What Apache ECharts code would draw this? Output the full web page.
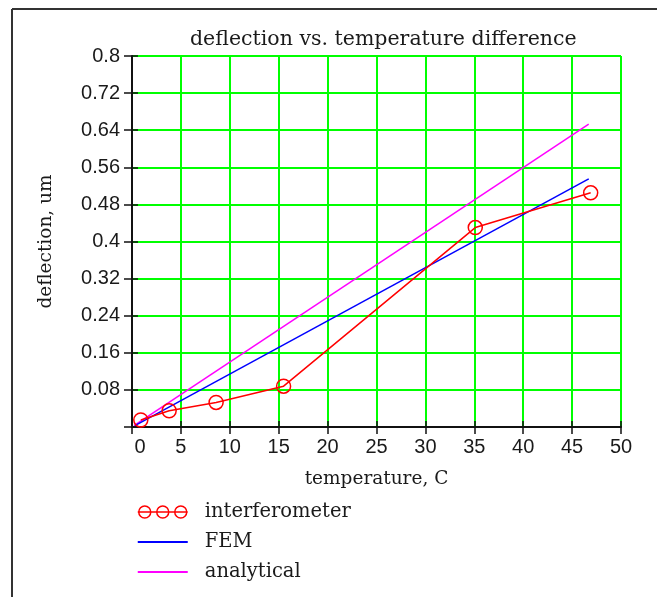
<!DOCTYPE html>
<html>
<head>
<meta charset="utf-8">
<script src="https://cdn.jsdelivr.net/npm/echarts@6/dist/echarts.min.js"></script>
<style>
  html, body { margin: 0; padding: 0; background: #ffffff; }
  #chart { width: 657px; height: 597px; }
</style>
</head>
<body>
<div id="chart"></div>
<script>
// Measured deflection (interferometer) against temperature difference
const temperature = [0.9, 3.8, 8.6, 15.5, 35.1, 46.9];
const interferometer = [0.015, 0.035, 0.053, 0.088, 0.43, 0.505];

// Model predictions (straight lines between end points)
const femTemperature = [0.3, 46.7];
const femDeflection = [0.003, 0.535];
const analyticalTemperature = [0.2, 46.7];
const analyticalDeflection = [0.003, 0.653];

// Axis tick labels
const xTickLabels = ['0', '5', '10', '15', '20', '25', '30', '35', '40', '45', '50'];
const yTickLabels = ['', '0.08', '0.16', '0.24', '0.32', '0.4', '0.48', '0.56', '0.64', '0.72', '0.8'];

const pairs = (xs, ys) => xs.map((x, i) => [x, ys[i]]);

const tickFont = { fontFamily: 'Liberation Sans', fontSize: 20, color: '#1a1a1a' };
const serif = 'DejaVu Serif';

const chart = echarts.init(document.getElementById('chart'), null, { renderer: 'canvas' });

const baseX = { type: 'value', min: 0, max: 50, interval: 5, gridIndex: 0 };
const baseY = { type: 'value', min: 0, max: 0.8, interval: 0.08, gridIndex: 0 };

chart.setOption({
  backgroundColor: '#ffffff',
  animation: false,
  title: {
    text: 'deflection vs. temperature difference',
    left: 185,
    top: 24,
    textStyle: { fontFamily: serif, fontSize: 20.5, fontWeight: 'normal', color: '#1a1a1a' }
  },
  grid: { left: 132, right: 36, top: 56, bottom: 170, containLabel: false },
  xAxis: [
    Object.assign({}, baseX, {
      position: 'bottom',
      name: 'temperature, C',
      nameLocation: 'middle',
      nameGap: 43,
      nameTextStyle: { fontFamily: serif, fontSize: 18.5, color: '#1a1a1a' },
      axisLine: { show: true, onZero: false, lineStyle: { color: '#111', width: 2 } },
      axisTick: { show: true, inside: false, length: 7, lineStyle: { color: '#111', width: 1.5 } },
      axisLabel: Object.assign({}, tickFont, {
        margin: 10,
        formatter: (v) => {
          const s = xTickLabels[Math.round(v / 5)];
          return s === '0' ? '{z|0}' : s;
        },
        rich: { z: Object.assign({}, tickFont, { padding: [0, 0, 0, 16] }) }
      }),
      splitLine: { show: true, lineStyle: { color: '#00ff00', width: 2 } }
    }),
    Object.assign({}, baseX, {
      position: 'bottom',
      axisLine: { show: false },
      axisTick: { show: true, inside: true, length: 6, lineStyle: { color: '#111', width: 1.5 } },
      axisLabel: { show: false },
      splitLine: { show: false }
    })
  ],
  yAxis: [
    Object.assign({}, baseY, {
      position: 'left',
      name: 'deflection, um',
      nameLocation: 'middle',
      nameGap: 76,
      nameTextStyle: { fontFamily: serif, fontSize: 18.5, color: '#1a1a1a' },
      axisLine: { show: true, onZero: false, lineStyle: { color: '#111', width: 2 } },
      axisTick: { show: true, inside: false, length: 8, lineStyle: { color: '#111', width: 1.5 } },
      axisLabel: Object.assign({}, tickFont, {
        margin: 12,
        formatter: (v) => yTickLabels[Math.round(v / 0.08)]
      }),
      splitLine: { show: true, lineStyle: { color: '#00ff00', width: 2 } }
    }),
    Object.assign({}, baseY, {
      position: 'left',
      axisLine: { show: false },
      axisTick: { show: true, inside: true, length: 6, lineStyle: { color: '#111', width: 1.5 } },
      axisLabel: { show: false },
      splitLine: { show: false }
    })
  ],
  legend: {
    orient: 'vertical',
    left: 132,
    top: 497,
    itemWidth: 50,
    itemHeight: 14,
    itemGap: 10,
    textStyle: { fontFamily: serif, fontSize: 19.5, color: '#1a1a1a', padding: [0, 0, 0, 12] },
    data: [
      {
        name: 'interferometer',
        icon: 'path://M0,7 L50,7 M13,7 A6,6 0 1,1 1,7 A6,6 0 1,1 13,7 M31,7 A6,6 0 1,1 19,7 A6,6 0 1,1 31,7 M49,7 A6,6 0 1,1 37,7 A6,6 0 1,1 49,7',
        itemStyle: { color: 'rgba(0,0,0,0)', borderColor: '#ff0000', borderWidth: 1.5 }
      },
      { name: 'FEM', icon: 'path://M0,0 L50,0 L50,2 L0,2 Z', itemStyle: { color: '#0000ff' } },
      { name: 'analytical', icon: 'path://M0,0 L50,0 L50,2 L0,2 Z', itemStyle: { color: '#ff00ff' } }
    ]
  },
  graphic: [
    { type: 'line', shape: { x1: 12, y1: 9, x2: 12, y2: 597 }, style: { stroke: '#333', lineWidth: 2 }, silent: true },
    { type: 'line', shape: { x1: 12, y1: 9, x2: 657, y2: 9 }, style: { stroke: '#333', lineWidth: 2 }, silent: true }
  ],
  series: [
    {
      name: 'analytical',
      type: 'line',
      xAxisIndex: 0, yAxisIndex: 0,
      data: pairs(analyticalTemperature, analyticalDeflection),
      symbol: 'none',
      lineStyle: { color: '#ff00ff', width: 1.5 },
      itemStyle: { color: '#ff00ff' },
      z: 3
    },
    {
      name: 'FEM',
      type: 'line',
      xAxisIndex: 0, yAxisIndex: 0,
      data: pairs(femTemperature, femDeflection),
      symbol: 'none',
      lineStyle: { color: '#0000ff', width: 1.5 },
      itemStyle: { color: '#0000ff' },
      z: 4
    },
    {
      name: 'interferometer',
      type: 'line',
      xAxisIndex: 0, yAxisIndex: 0,
      data: pairs(temperature, interferometer),
      symbol: 'circle',
      symbolSize: 14,
      showAllSymbol: true,
      lineStyle: { color: '#ff0000', width: 1.5 },
      itemStyle: { color: 'rgba(0,0,0,0)', borderColor: '#ff0000', borderWidth: 1.5 },
      z: 5
    }
  ]
});
</script>
</body>
</html>
